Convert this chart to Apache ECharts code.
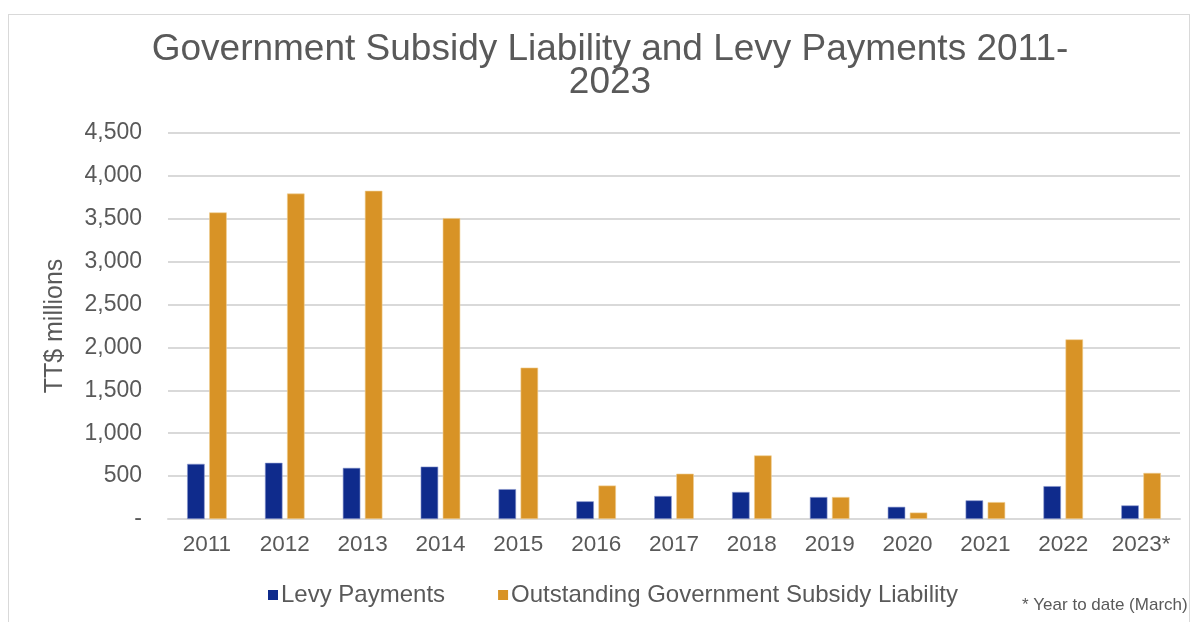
<!DOCTYPE html>
<html>
<head>
<meta charset="utf-8">
<script src="https://cdn.jsdelivr.net/npm/echarts@6/dist/echarts.min.js"></script>
<style>
html,body{margin:0;padding:0;background:#fff;}
#frame{position:absolute;left:8px;top:14px;width:1182px;height:640px;border:1px solid #d9d9d9;box-sizing:border-box;}
#chart{position:absolute;left:0;top:0;width:1196px;height:622px;}
</style>
</head>
<body>
<div id="frame"></div>
<div id="chart"></div>
<script>
const categories = ['2011','2012','2013','2014','2015','2016','2017','2018','2019','2020','2021','2022','2023*'];
const levyPayments = [643, 655, 596, 611, 348, 206, 268, 315, 256, 142, 217, 383, 158];
const subsidyLiability = [3574, 3794, 3826, 3508, 1765, 390, 528, 741, 256, 75, 197, 2094, 537];
const yTicks = [0, 500, 1000, 1500, 2000, 2500, 3000, 3500, 4000, 4500];

const font = 'Liberation Sans, Arial, Helvetica, sans-serif';
const chart = echarts.init(document.getElementById('chart'), null, {renderer:'canvas'});
chart.setOption({
  backgroundColor: 'transparent',
  animation: false,
  title: {
    text: 'Government Subsidy Liability and Levy Payments 2011-\n2023',
    left: 605, textAlign: 'center', top: 28,
    textStyle: {fontFamily: font, fontSize: 37, fontWeight: 'normal', color: '#595959', lineHeight: 33}
  },
  legend: {
    left: 263, top: 578, itemWidth: 10, itemHeight: 10, itemGap: 53, icon: 'rect',
    itemStyle: {borderWidth: 0},
    textStyle: {fontFamily: font, fontSize: 24, color: '#595959', padding: [0,0,0,-2]},
    data: ['Levy Payments', 'Outstanding Government Subsidy Liability']
  },
  grid: {left: 168, right: 16, top: 133, bottom: 103, containLabel: false},
  xAxis: {
    type: 'category', data: categories,
    axisLine: {lineStyle: {color: '#d9d9d9', width: 2}},
    axisTick: {show: false},
    axisLabel: {fontFamily: font, fontSize: 22.5, color: '#595959', margin: 14, interval: 0, hideOverlap: false}
  },
  yAxis: {
    type: 'value', min: yTicks[0], max: yTicks[yTicks.length-1], interval: 500,
    name: 'TT$ millions', nameLocation: 'middle', nameGap: 100, nameRotate: 90,
    nameTextStyle: {fontFamily: font, fontSize: 25, color: '#595959'},
    axisLine: {show: false}, axisTick: {show: false},
    axisLabel: {fontFamily: font, fontSize: 23, color: '#595959', margin: 26,
      formatter: v => v === 0 ? '-' : v.toLocaleString('en-US')},
    splitLine: {lineStyle: {color: '#d9d9d9', width: 2}}
  },
  series: [
    {name: 'Levy Payments', type: 'bar', data: levyPayments, barWidth: '22.5%', barGap: '26%',
     itemStyle: {color: '#0f2b8c', borderColor: '#8d9bd0', borderWidth: 0.6}},
    {name: 'Outstanding Government Subsidy Liability', type: 'bar', data: subsidyLiability, barWidth: '22.5%',
     itemStyle: {color: '#d89326', borderColor: '#f0cf92', borderWidth: 0.6}}
  ],
  graphic: [{
    type: 'text', left: 1022, top: 597,
    style: {text: '* Year to date (March)', fontFamily: font, fontSize: 17, fill: '#595959'}
  }]
});
</script>
</body>
</html>
